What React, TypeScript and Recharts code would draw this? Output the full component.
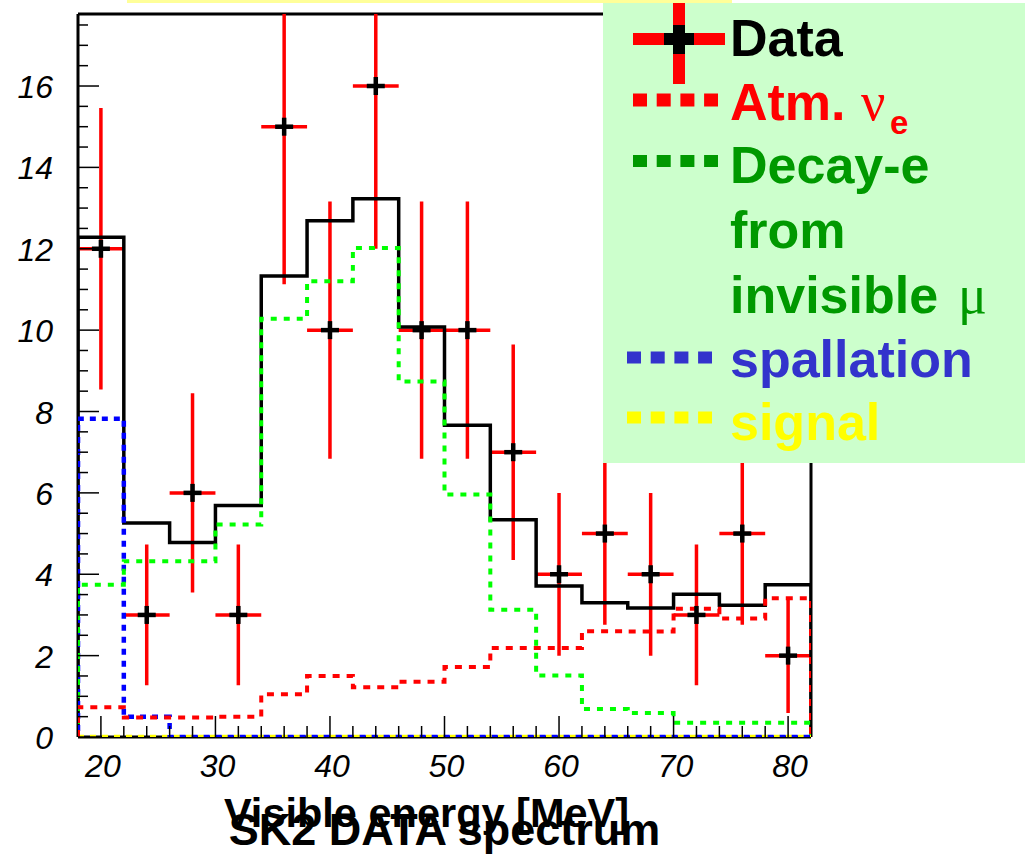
import React from 'react';
import {
  ComposedChart,
  Line,
  Scatter,
  XAxis,
  YAxis,
  CartesianGrid,
  Legend,
  Label,
} from 'recharts';

// Histogram binning: 4 MeV bins from 18 to 82 MeV
const binLowEdges = [18, 22, 26, 30, 34, 38, 42, 46, 50, 54, 58, 62, 66, 70, 74, 78];
const binUpperEdge = 82;
const binCenters = [20, 24, 28, 32, 36, 40, 44, 48, 52, 56, 60, 64, 68, 72, 76, 80];
const binHalfWidths = [2, 2, 2, 2, 2, 2, 2, 2, 2, 2, 2, 2, 2, 2, 2, 2];

// Observed events and their statistical errors
const dataCounts = [12, 3, 6, 3, 15, 10, 16, 10, 10, 7, 4, 5, 4, 3, 5, 2];
const dataErrors = [3.46, 1.73, 2.45, 1.73, 3.87, 3.16, 4.0, 3.16, 3.16, 2.65, 2.0, 2.24, 2.0, 1.73, 2.24, 1.41];

// Expected spectra per bin
const totalExpected = [12.28, 5.26, 4.78, 5.69, 11.33, 12.69, 13.23, 10.08, 7.66, 5.34, 3.71, 3.3, 3.17, 3.51, 3.24, 3.74];
const atmNuE = [0.73, 0.48, 0.48, 0.5, 1.05, 1.5, 1.22, 1.36, 1.72, 2.19, 2.19, 2.6, 2.59, 3.15, 2.91, 3.41];
const decayE = [3.74, 4.32, 4.32, 5.22, 10.28, 11.2, 12.02, 8.74, 5.96, 3.13, 1.51, 0.69, 0.59, 0.35, 0.35, 0.35];
const spallation = [7.82, 0.5, 0, 0, 0, 0, 0, 0, 0, 0, 0, 0, 0, 0, 0, 0];
const signal = [0, 0, 0, 0, 0, 0, 0, 0, 0, 0, 0, 0, 0, 0, 0, 0];

// Axes
const xRange = [18, 82];
const yRange = [0, 17.77];
const xMajorTicks = [20, 30, 40, 50, 60, 70, 80];
const xMinorTicks = [22, 24, 26, 28, 32, 34, 36, 38, 42, 44, 46, 48, 52, 54, 56, 58, 62, 64, 66, 68, 72, 74, 76, 78];
const yMajorTicks = [0, 2, 4, 6, 8, 10, 12, 14, 16];
const yMinorTicks = [0.5, 1, 1.5, 2.5, 3, 3.5, 4.5, 5, 5.5, 6.5, 7, 7.5, 8.5, 9, 9.5, 10.5, 11, 11.5, 12.5, 13, 13.5, 14.5, 15, 15.5, 16.5, 17, 17.5];

const xTicks = [...xMajorTicks, ...xMinorTicks].sort((a, b) => a - b);
const yTicks = [...yMajorTicks, ...yMinorTicks].sort((a, b) => a - b);

const SANS = "'Liberation Sans', Arial, Helvetica, sans-serif";
const SERIF = "'Liberation Serif', 'Times New Roman', serif";

// Closed step outline of a histogram (drops to zero at both outer edges)
const stepPoints = (values: number[]) => [
  { x: binLowEdges[0], y: 0 },
  ...values.map((v, i) => ({ x: binLowEdges[i], y: v })),
  { x: binUpperEdge, y: values[values.length - 1] },
  { x: binUpperEdge, y: 0 },
];

const dataPoints = binCenters.map((x, i) => ({ x, y: dataCounts[i] }));

// Error bars as broken polylines: one segment per point, separated by gaps
const verticalErrorSegments = binCenters.flatMap((x, i) => [
  { x, y: dataCounts[i] - dataErrors[i] },
  { x, y: dataCounts[i] + dataErrors[i] },
  { x, y: null },
]);
const horizontalErrorSegments = binCenters.flatMap((x, i) => [
  { x: x - binHalfWidths[i], y: dataCounts[i] },
  { x: x + binHalfWidths[i], y: dataCounts[i] },
  { x: x + binHalfWidths[i], y: null },
]);

const renderXTick = (props: any) => {
  const { x, y, payload } = props;
  const major = xMajorTicks.includes(payload.value);
  return (
    <g>
      <line x1={x} y1={y} x2={x} y2={y - (major ? 21 : 11)} stroke="#000" strokeWidth={1.5} />
      {major && (
        <text
          x={x + 2}
          y={y + 40}
          textAnchor="middle"
          fontFamily={SANS}
          fontStyle="italic"
          fontSize={32}
          fill="#000"
        >
          {payload.value}
        </text>
      )}
    </g>
  );
};

const renderYTick = (props: any) => {
  const { x, y, payload } = props;
  const major = yMajorTicks.includes(payload.value);
  return (
    <g>
      <line x1={x} y1={y} x2={x + (major ? 21 : 10)} y2={y} stroke="#000" strokeWidth={1.5} />
      {major && (
        <text
          x={x - 25}
          y={y + 12}
          textAnchor="end"
          fontFamily={SANS}
          fontStyle="italic"
          fontSize={32}
          fill="#000"
        >
          {payload.value}
        </text>
      )}
    </g>
  );
};

const renderCross = (props: any) => {
  const { cx, cy } = props;
  return (
    <g>
      <rect x={cx - 9} y={cy - 2.25} width={18} height={4.5} fill="#000" />
      <rect x={cx - 2.25} y={cy - 9} width={4.5} height={18} fill="#000" />
    </g>
  );
};

const renderAxisTitles = (props: any) => {
  const { viewBox } = props;
  const cx = viewBox.x + viewBox.width / 2;
  return (
    <g fontFamily={SANS} fontWeight="bold" fill="#000">
      <text x={cx - 18} y={viewBox.y + 90} textAnchor="middle" fontSize={41.5}>
        Visible energy [MeV]
      </text>
      <text x={cx} y={viewBox.y + 108} textAnchor="middle" fontSize={45}>
        SK2 DATA spectrum
      </text>
    </g>
  );
};

const legendItems = [
  { label: 'Decay-e', color: '#009900', sample: '#009900', y: 180, sampleY: 158, sampleX: 30 },
  { label: 'from', color: '#009900', sample: null, y: 245, sampleY: 0, sampleX: 0 },
  { label: 'spallation', color: '#3333cc', sample: '#3333cc', y: 374, sampleY: 354.5, sampleX: 24 },
  { label: 'signal', color: '#ffff00', sample: '#ffff00', y: 437, sampleY: 414.5, sampleX: 24 },
];

const renderLegend = () => (
  <svg width={422} height={460} style={{ display: 'block', background: '#ccffcc' }}>
    <g fontFamily={SANS} fontWeight="bold" fontSize={52}>
      {/* Data marker */}
      <rect x={30} y={30} width={92} height={12} fill="#ff0000" />
      <rect x={70} y={0} width={12} height={81} fill="#ff0000" />
      <rect x={61} y={30} width={30} height={12} fill="#000" />
      <rect x={70} y={22} width={12} height={29} fill="#000" />
      <text x={127} y={53} fill="#000">Data</text>

      {/* Atmospheric nu_e */}
      <line x1={30} y1={97} x2={115} y2={97} stroke="#ff0000" strokeWidth={13} strokeDasharray="14 9.7" />
      <text x={127} y={117} fill="#ff0000">Atm.</text>
      <text x={258} y={117} fill="#ff0000" fontFamily={SERIF} fontWeight="normal" fontSize={54}>ν</text>
      <text x={287} y={131} fill="#ff0000" fontSize={33}>e</text>

      {legendItems.map((it) => (
        <g key={it.label}>
          {it.sample && (
            <line
              x1={it.sampleX}
              y1={it.sampleY}
              x2={it.sampleX + 85}
              y2={it.sampleY}
              stroke={it.sample}
              strokeWidth={12}
              strokeDasharray="14 9.7"
            />
          )}
          <text x={127} y={it.y} fill={it.color}>{it.label}</text>
        </g>
      ))}

      <text x={127} y={310} fill="#009900">invisible</text>
      <text x={355} y={310} fill="#009900" fontFamily={SERIF} fontWeight="normal" fontSize={54}>μ</text>
    </g>
  </svg>
);

const stepLine = (values: number[], stroke: string, width: number, dash?: string, offset?: number) => (
  <Line
    data={stepPoints(values)}
    dataKey="y"
    type="stepAfter"
    stroke={stroke}
    strokeWidth={width}
    strokeDasharray={dash}
    strokeDashoffset={offset}
    strokeLinejoin="miter"
    dot={false}
    activeDot={false}
    isAnimationActive={false}
  />
);

export default function App() {
  return (
    <div style={{ position: 'absolute', left: 0, top: 0, width: 1025, height: 855, background: '#fff' }}>
      <div style={{ position: 'absolute', left: 127, top: 0, width: 605, height: 3, background: '#ffff99' }} />
      <ComposedChart width={1025} height={855} margin={{ top: 14, right: 214, bottom: 0, left: 0 }}>
        {/* Plot frame, drawn beneath the series */}
        <CartesianGrid
          horizontalValues={yRange}
          verticalValues={xRange}
          stroke="#000"
          strokeWidth={3}
          strokeOpacity={1}
          fill="none"
        />
        <XAxis
          type="number"
          dataKey="x"
          domain={xRange}
          allowDataOverflow
          ticks={xTicks}
          interval={0}
          tickSize={0}
          tickMargin={0}
          axisLine={false}
          tickLine={false}
          height={118}
          tick={renderXTick}
        >
          <Label content={renderAxisTitles} />
        </XAxis>
        <YAxis
          type="number"
          domain={yRange}
          allowDataOverflow
          ticks={yTicks}
          interval={0}
          tickSize={0}
          tickMargin={0}
          axisLine={false}
          tickLine={false}
          width={78}
          tick={renderYTick}
        />
        {/* Data error bars, beneath the expected spectra */}
        <Line
          data={verticalErrorSegments}
          dataKey="y"
          type="linear"
          stroke="#ff0000"
          strokeWidth={3.5}
          connectNulls={false}
          dot={false}
          activeDot={false}
          isAnimationActive={false}
        />
        <Line
          data={horizontalErrorSegments}
          dataKey="y"
          type="linear"
          stroke="#ff0000"
          strokeWidth={3.5}
          connectNulls={false}
          dot={false}
          activeDot={false}
          isAnimationActive={false}
        />
        {stepLine(totalExpected, '#000', 3.5)}
        {stepLine(signal, '#ffff00', 4.5, '6 6')}
        {stepLine(spallation, '#0000ff', 4.5, '6 6', 6)}
        {stepLine(decayE, '#00ff00', 4, '6 7')}
        {stepLine(atmNuE, '#ff0000', 4, '7 7')}
        {/* Data markers on top */}
        <Scatter data={dataPoints} dataKey="y" isAnimationActive={false} shape={renderCross} />
        <Legend
          content={renderLegend}
          layout="vertical"
          align="center"
          verticalAlign="middle"
          wrapperStyle={{ left: 603, top: 3, width: 422, height: 460, right: 'auto', bottom: 'auto' }}
        />
      </ComposedChart>
    </div>
  );
}
